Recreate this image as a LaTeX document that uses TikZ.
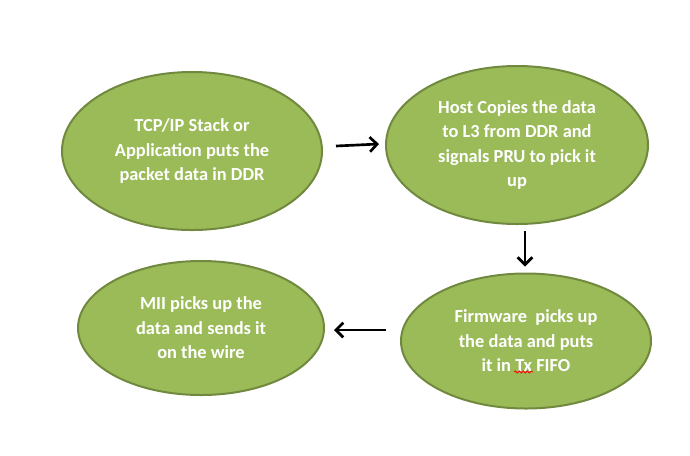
\documentclass[tikz,border=0pt]{standalone}
\usepackage{fontspec}
\setmainfont{Carlito}
\usetikzlibrary{shapes.geometric,arrows.meta,decorations.pathmorphing}
\definecolor{egreen}{HTML}{9BBB59}
\definecolor{eborder}{HTML}{71893F}
\tikzset{
  bubble/.style={ellipse, fill=egreen, draw=eborder, line width=1.5pt, inner sep=0pt,
    text=white, font=\bfseries\fontsize{13.8}{18.3}\selectfont, align=center},
  arr/.style={line width=2pt, -{Straight Barb[length=5.5pt,width=11pt]}}
}
\begin{document}
\begin{tikzpicture}[x=0.75pt,y=-0.75pt]
\useasboundingbox (0,0) rectangle (690,455);
\node[bubble, minimum width=195pt, minimum height=118.5pt] (e1) at (192,151)
  {TCP/IP Stack or\\Application puts the\\packet data in DDR};
\node[bubble, minimum width=196.5pt, minimum height=118.5pt] (e2) at (517,145)
  {Host Copies the data\\to L3 from DDR and\\signals PRU to pick it\\up};
\node[bubble, minimum width=187.5pt, minimum height=101.25pt] (e3) at (526,341)
  {Firmware\ \ picks up\\the data and puts\\it in Tx FIFO};
\node[bubble, minimum width=184.5pt, minimum height=100.5pt] (e4) at (201,328)
  {MII picks up the\\data and sends it\\on the wire};
\draw[arr] ([shift={(13,-5)}]e1.east) -- ([shift={(-6,-1)}]e2.west);
\draw[arr] ([shift={(8,6)}]e2.south) -- ([shift={(-1,-6)}]e3.north);
\draw[arr] ([shift={(-14,-11)}]e3.west) -- ([shift={(9,2)}]e4.east);
\draw[red, line width=0.6pt, decorate, decoration={snake, amplitude=0.8, segment length=3}]
  ([shift={(-12,31)}]e3.center) -- ([shift={(7,31)}]e3.center);
\end{tikzpicture}
\end{document}
